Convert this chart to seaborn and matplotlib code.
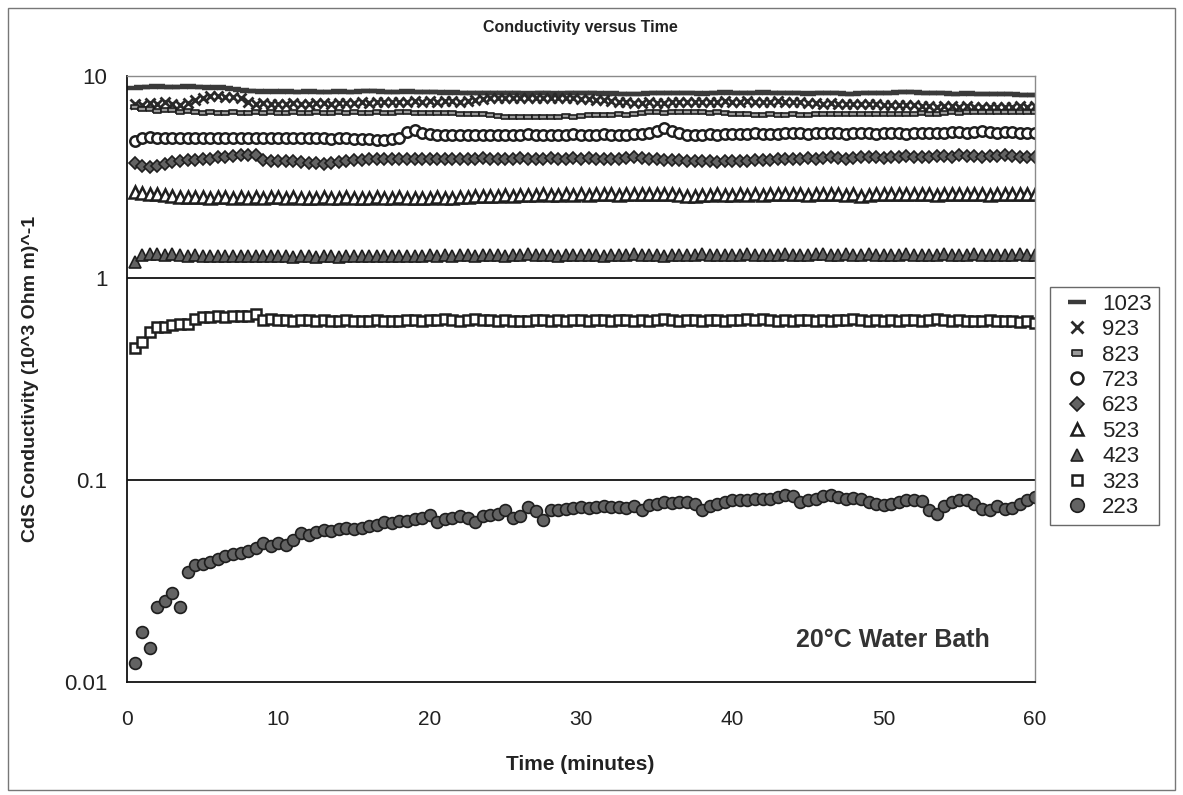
import numpy as np
import pandas as pd
import matplotlib
matplotlib.use("Agg")
import matplotlib.pyplot as plt
import seaborn as sns
from matplotlib.patches import Rectangle
from matplotlib.ticker import FixedLocator, FixedFormatter, NullLocator

# sampling times (minutes), one reading every half minute
t_min = np.arange(0.5, 60.01, 0.5)

c1023 = [8.7, 8.8, 8.85, 8.9, 8.85, 8.8, 8.85, 8.9, 8.85, 8.8, 8.75, 8.8, 8.7, 8.6, 8.5, 8.45, 8.4, 8.35, 8.4, 8.35,
         8.4, 8.35, 8.38, 8.4, 8.35, 8.3, 8.35, 8.4, 8.38, 8.35, 8.4, 8.45, 8.4, 8.35, 8.3, 8.35, 8.4, 8.35, 8.3, 8.32,
         8.3, 8.28, 8.3, 8.25, 8.22, 8.25, 8.2, 8.22, 8.25, 8.2, 8.22, 8.2, 8.18, 8.2, 8.22, 8.2, 8.18, 8.2, 8.25, 8.2,
         8.22, 8.2, 8.18, 8.2, 8.15, 8.12, 8.1, 8.15, 8.2, 8.25, 8.22, 8.2, 8.25, 8.22, 8.2, 8.18, 8.2, 8.22, 8.3, 8.25,
         8.22, 8.2, 8.25, 8.3, 8.28, 8.25, 8.22, 8.2, 8.22, 8.18, 8.2, 8.25, 8.22, 8.2, 8.18, 8.15, 8.2, 8.22, 8.2, 8.25,
         8.28, 8.3, 8.35, 8.3, 8.25, 8.2, 8.22, 8.2, 8.18, 8.15, 8.2, 8.18, 8.15, 8.12, 8.1, 8.12, 8.1, 8.08, 8.05, 8.05]
c923 = [7.3, 7.2, 7.35, 7.25, 7.4, 7.3, 7.2, 7.35, 7.6, 7.8, 7.95, 8.0, 7.85, 7.9, 7.8, 7.4, 7.3, 7.35, 7.3, 7.25,
        7.3, 7.35, 7.3, 7.28, 7.32, 7.35, 7.3, 7.35, 7.38, 7.35, 7.4, 7.38, 7.42, 7.4, 7.45, 7.42, 7.45, 7.48, 7.45, 7.5,
        7.45, 7.48, 7.5, 7.45, 7.5, 7.6, 7.7, 7.75, 7.8, 7.75, 7.8, 7.82, 7.78, 7.8, 7.75, 7.8, 7.78, 7.75, 7.8, 7.7,
        7.72, 7.65, 7.6, 7.5, 7.45, 7.4, 7.38, 7.35, 7.4, 7.38, 7.35, 7.4, 7.42, 7.4, 7.45, 7.42, 7.4, 7.45, 7.48, 7.45,
        7.45, 7.48, 7.45, 7.42, 7.45, 7.48, 7.45, 7.42, 7.4, 7.38, 7.35, 7.3, 7.32, 7.3, 7.28, 7.3, 7.25, 7.28, 7.25, 7.2,
        7.22, 7.2, 7.15, 7.18, 7.1, 7.12, 7.05, 7.1, 7.08, 7.05, 7.1, 7.05, 7.0, 7.05, 7.02, 7.0, 7.05, 7.1, 7.05, 7.1]
c823 = [7.0, 6.85, 6.9, 6.7, 6.75, 6.8, 6.6, 6.7, 6.65, 6.55, 6.6, 6.58, 6.55, 6.6, 6.55, 6.58, 6.6, 6.55, 6.6, 6.58,
        6.55, 6.6, 6.58, 6.55, 6.6, 6.55, 6.58, 6.6, 6.55, 6.6, 6.58, 6.55, 6.6, 6.58, 6.55, 6.6, 6.62, 6.58, 6.55, 6.58,
        6.55, 6.58, 6.55, 6.5, 6.52, 6.48, 6.45, 6.4, 6.35, 6.3, 6.28, 6.3, 6.25, 6.3, 6.28, 6.25, 6.3, 6.35, 6.3, 6.35,
        6.4, 6.42, 6.38, 6.4, 6.45, 6.42, 6.5, 6.55, 6.6, 6.62, 6.58, 6.65, 6.62, 6.6, 6.65, 6.62, 6.58, 6.6, 6.55, 6.5,
        6.48, 6.45, 6.42, 6.4, 6.45, 6.42, 6.4, 6.45, 6.42, 6.4, 6.45, 6.48, 6.45, 6.5, 6.48, 6.45, 6.5, 6.48, 6.5, 6.52,
        6.5, 6.48, 6.5, 6.52, 6.55, 6.5, 6.52, 6.55, 6.6, 6.58, 6.62, 6.6, 6.65, 6.62, 6.6, 6.65, 6.62, 6.6, 6.65, 6.62]
c723 = [4.75, 4.95, 5.0, 4.95, 4.92, 4.95, 4.95, 4.92, 4.95, 4.95, 4.92, 4.95, 4.95, 4.93, 4.95, 4.95, 4.92, 4.95, 4.95, 4.95,
        4.93, 4.95, 4.95, 4.93, 4.95, 4.92, 4.9, 4.92, 4.95, 4.9, 4.85, 4.88, 4.82, 4.8, 4.85, 4.95, 5.3, 5.4, 5.25, 5.15,
        5.1, 5.12, 5.1, 5.1, 5.08, 5.1, 5.12, 5.1, 5.1, 5.08, 5.1, 5.12, 5.15, 5.1, 5.1, 5.12, 5.1, 5.1, 5.15, 5.12,
        5.1, 5.12, 5.15, 5.12, 5.1, 5.12, 5.15, 5.18, 5.2, 5.35, 5.5, 5.35, 5.2, 5.12, 5.1, 5.12, 5.15, 5.12, 5.15, 5.18,
        5.15, 5.18, 5.2, 5.18, 5.15, 5.18, 5.22, 5.25, 5.2, 5.18, 5.2, 5.22, 5.25, 5.2, 5.18, 5.2, 5.22, 5.2, 5.18, 5.2,
        5.22, 5.2, 5.18, 5.2, 5.25, 5.22, 5.2, 5.25, 5.3, 5.28, 5.25, 5.3, 5.32, 5.28, 5.25, 5.3, 5.28, 5.25, 5.22, 5.2]
c623 = [3.7, 3.6, 3.55, 3.6, 3.65, 3.75, 3.8, 3.85, 3.85, 3.9, 3.9, 3.95, 3.95, 4.0, 4.05, 4.05, 4.08, 3.85, 3.8, 3.8,
        3.8, 3.78, 3.76, 3.72, 3.7, 3.68, 3.72, 3.76, 3.8, 3.84, 3.86, 3.88, 3.88, 3.9, 3.9, 3.88, 3.9, 3.9, 3.88, 3.9,
        3.9, 3.88, 3.9, 3.9, 3.88, 3.9, 3.92, 3.9, 3.88, 3.9, 3.9, 3.92, 3.9, 3.88, 3.9, 3.92, 3.9, 3.9, 3.92, 3.9,
        3.92, 3.9, 3.9, 3.88, 3.9, 3.92, 3.95, 3.92, 3.9, 3.88, 3.86, 3.85, 3.82, 3.8, 3.78, 3.8, 3.78, 3.76, 3.78, 3.8,
        3.78, 3.8, 3.82, 3.85, 3.86, 3.88, 3.9, 3.88, 3.9, 3.92, 3.9, 3.92, 3.95, 3.92, 3.9, 3.92, 3.95, 3.98, 3.95, 3.92,
        3.95, 3.98, 4.0, 3.98, 3.95, 3.98, 4.02, 4.0, 3.98, 4.05, 4.02, 4.0, 3.98, 4.0, 4.02, 4.05, 4.0, 3.98, 3.95, 3.95]
c523 = [2.67, 2.65, 2.62, 2.6, 2.57, 2.55, 2.53, 2.52, 2.52, 2.51, 2.5, 2.52, 2.51, 2.5, 2.52, 2.5, 2.51, 2.5, 2.52, 2.51,
        2.5, 2.51, 2.5, 2.49, 2.5, 2.51, 2.5, 2.5, 2.51, 2.5, 2.49, 2.5, 2.51, 2.5, 2.5, 2.51, 2.5, 2.49, 2.5, 2.5,
        2.51, 2.5, 2.5, 2.52, 2.53, 2.55, 2.54, 2.56, 2.55, 2.57, 2.56, 2.58, 2.57, 2.58, 2.6, 2.58, 2.59, 2.6, 2.58, 2.6,
        2.59, 2.6, 2.61, 2.6, 2.58, 2.6, 2.62, 2.6, 2.61, 2.6, 2.62, 2.6, 2.58, 2.56, 2.55, 2.57, 2.58, 2.6, 2.59, 2.58,
        2.6, 2.58, 2.6, 2.59, 2.6, 2.62, 2.6, 2.61, 2.6, 2.58, 2.6, 2.6, 2.62, 2.6, 2.59, 2.6, 2.56, 2.58, 2.6, 2.61,
        2.6, 2.62, 2.6, 2.6, 2.61, 2.6, 2.59, 2.6, 2.62, 2.6, 2.6, 2.61, 2.6, 2.59, 2.6, 2.6, 2.61, 2.6, 2.6, 2.6]
c423 = [1.2, 1.3, 1.32, 1.31, 1.3, 1.31, 1.3, 1.29, 1.3, 1.29, 1.28, 1.29, 1.28, 1.28, 1.29, 1.28, 1.28, 1.29, 1.28, 1.28,
        1.28, 1.27, 1.28, 1.28, 1.27, 1.28, 1.28, 1.27, 1.28, 1.28, 1.29, 1.28, 1.28, 1.29, 1.28, 1.29, 1.29, 1.28, 1.29, 1.3,
        1.29, 1.3, 1.29, 1.3, 1.3, 1.29, 1.3, 1.3, 1.3, 1.29, 1.3, 1.3, 1.31, 1.3, 1.3, 1.3, 1.29, 1.3, 1.3, 1.3,
        1.3, 1.3, 1.29, 1.3, 1.3, 1.3, 1.31, 1.3, 1.3, 1.3, 1.29, 1.3, 1.3, 1.3, 1.3, 1.31, 1.3, 1.3, 1.3, 1.3,
        1.3, 1.31, 1.3, 1.3, 1.3, 1.3, 1.31, 1.3, 1.3, 1.3, 1.31, 1.31, 1.3, 1.3, 1.31, 1.3, 1.3, 1.31, 1.3, 1.3,
        1.3, 1.3, 1.31, 1.3, 1.3, 1.3, 1.3, 1.31, 1.3, 1.3, 1.3, 1.31, 1.3, 1.3, 1.3, 1.3, 1.3, 1.31, 1.3, 1.3]
c323 = [0.45, 0.48, 0.54, 0.57, 0.57, 0.585, 0.59, 0.59, 0.626, 0.64, 0.64, 0.645, 0.64, 0.65, 0.645, 0.65, 0.66, 0.62, 0.625, 0.62,
        0.62, 0.615, 0.62, 0.62, 0.615, 0.62, 0.615, 0.615, 0.62, 0.615, 0.61, 0.615, 0.62, 0.615, 0.61, 0.615, 0.62, 0.62, 0.615, 0.62,
        0.62, 0.625, 0.62, 0.615, 0.62, 0.625, 0.62, 0.62, 0.615, 0.62, 0.615, 0.61, 0.615, 0.62, 0.62, 0.615, 0.62, 0.615, 0.62, 0.62,
        0.615, 0.62, 0.62, 0.615, 0.62, 0.62, 0.615, 0.62, 0.615, 0.62, 0.625, 0.62, 0.615, 0.62, 0.62, 0.615, 0.62, 0.62, 0.615, 0.62,
        0.62, 0.625, 0.62, 0.625, 0.62, 0.615, 0.62, 0.615, 0.62, 0.62, 0.615, 0.62, 0.615, 0.62, 0.62, 0.625, 0.62, 0.615, 0.62, 0.615,
        0.62, 0.615, 0.62, 0.62, 0.615, 0.62, 0.625, 0.62, 0.615, 0.62, 0.615, 0.61, 0.615, 0.62, 0.615, 0.61, 0.61, 0.605, 0.61, 0.60]
c223 = [0.0124, 0.0177, 0.0147, 0.0235, 0.0252, 0.0276, 0.0235, 0.0351, 0.0378, 0.0386, 0.0395, 0.0405, 0.042, 0.043, 0.0435, 0.0445, 0.046, 0.0488, 0.047, 0.049,
        0.0475, 0.0505, 0.0547, 0.0535, 0.055, 0.0567, 0.056, 0.057, 0.058, 0.0575, 0.058, 0.059, 0.06, 0.062, 0.061, 0.0625, 0.063, 0.064, 0.0648, 0.0668,
        0.062, 0.064, 0.0645, 0.066, 0.065, 0.062, 0.066, 0.067, 0.068, 0.071, 0.065, 0.066, 0.0735, 0.07, 0.0636, 0.071, 0.071, 0.072, 0.073, 0.0735,
        0.073, 0.0735, 0.074, 0.0735, 0.0735, 0.073, 0.074, 0.071, 0.075, 0.0765, 0.0778, 0.077, 0.0775, 0.078, 0.0765, 0.071, 0.074, 0.0765, 0.078, 0.08,
        0.0795, 0.08, 0.081, 0.0805, 0.081, 0.0825, 0.0843, 0.083, 0.078, 0.08, 0.081, 0.0835, 0.084, 0.0825, 0.081, 0.0815, 0.081, 0.078, 0.076, 0.075,
        0.0765, 0.078, 0.08, 0.08, 0.079, 0.071, 0.068, 0.0745, 0.078, 0.08, 0.0795, 0.076, 0.072, 0.071, 0.0745, 0.0715, 0.073, 0.076, 0.08, 0.082]

etiquetas = ["1023", "923", "823", "723", "623", "523", "423", "323", "223"]
series = [c1023, c923, c823, c723, c623, c523, c423, c323, c223]

y_ticks = [0.01, 0.1, 1, 10]
y_tick_labels = ["0.01", "0.1", "1", "10"]
x_ticks = [0, 10, 20, 30, 40, 50, 60]

gris = "#636363"
borde = "#1e1e1e"
rect = [(-1, -0.55), (1, -0.55), (1, 0.55), (-1, 0.55), (-1, -0.55)]
estilos = {
    "1023": dict(marker="_", markersize=11, markeredgewidth=3.2, markerfacecolor=gris, markeredgecolor="#3a3a3a"),
    "923": dict(marker="x", markersize=7.5, markeredgewidth=2.0, markerfacecolor=borde, markeredgecolor="#2a2a2a"),
    "823": dict(marker=rect, markersize=6, markeredgewidth=1.2, markerfacecolor="#9a9a9a", markeredgecolor=borde),
    "723": dict(marker="o", markersize=7.5, markeredgewidth=1.8, markerfacecolor="white", markeredgecolor=borde),
    "623": dict(marker="D", markersize=6.5, markeredgewidth=1.2, markerfacecolor=gris, markeredgecolor=borde),
    "523": dict(marker="^", markersize=8, markeredgewidth=1.8, markerfacecolor="white", markeredgecolor=borde),
    "423": dict(marker="^", markersize=8, markeredgewidth=1.2, markerfacecolor=gris, markeredgecolor=borde),
    "323": dict(marker="s", markersize=6.5, markeredgewidth=1.8, markerfacecolor="white", markeredgecolor=borde),
    "223": dict(marker="o", markersize=8.5, markeredgewidth=1.2, markerfacecolor=gris, markeredgecolor=borde),
}

sns.set_style("white")
plt.rcParams["font.family"] = ["Liberation Sans", "DejaVu Sans"]
texto = "#222222"

fig = plt.figure(figsize=(11.83, 7.95), dpi=100)
ax = fig.add_axes([127 / 1183, 0.1421, 908 / 1183, 0.7623])

for nombre, valores in zip(etiquetas, series):
    df = pd.DataFrame({"t": t_min, "c": valores})
    sns.lineplot(data=df, x="t", y="c", ax=ax, linestyle="", color=borde, label=nombre, **estilos[nombre])

ax.set_yscale("log")
ax.set_ylim(0.01, 10)
ax.set_xlim(0, 60)
ax.yaxis.set_major_locator(FixedLocator(y_ticks))
ax.yaxis.set_major_formatter(FixedFormatter(y_tick_labels))
ax.yaxis.set_minor_locator(NullLocator())
ax.set_xticks(x_ticks)
ax.set_xlabel("")
ax.set_ylabel("")

for v in y_ticks[1:3]:
    ax.axhline(v, color="#111111", lw=1.3, zorder=0)

for lado in ["left", "bottom"]:
    ax.spines[lado].set_color("#111111")
    ax.spines[lado].set_linewidth(1.3)
for lado in ["top", "right"]:
    ax.spines[lado].set_color("#8a8a8a")
    ax.spines[lado].set_linewidth(1.0)
    ax.spines[lado].set_linestyle((0, (3, 1)))

ax.tick_params(axis="both", which="major", direction="out", length=6, width=1.2, color="#111111",
               labelcolor=texto)
ax.tick_params(axis="x", pad=14, labelsize=15)
ax.tick_params(axis="y", pad=8, labelsize=16)

fig.text(0.4905, 0.965, "Conductivity versus Time", ha="center", va="center",
         fontsize=11.5, fontweight="bold", color=texto)
fig.text(0.4905, 0.038, "Time (minutes)", ha="center", va="center",
         fontsize=15, fontweight="bold", color=texto)
fig.text(0.026, 0.523, "CdS Conductivity (10^3 Ohm m)^-1", ha="center", va="center", rotation=90,
         fontsize=14, fontweight="bold", color=texto)
ax.text(0.844, 0.069, "20°C Water Bath", transform=ax.transAxes, ha="center", va="center",
        fontsize=18, fontweight="bold", color="#333333")

ley = ax.legend(loc="upper left", bbox_to_anchor=(1050 / 1183, 1 - 287 / 795), bbox_transform=fig.transFigure,
                frameon=True, fancybox=False, fontsize=16, handlelength=1.8, handletextpad=0.25,
                labelspacing=0.2, borderpad=0.3, borderaxespad=0, labelcolor=texto, markerscale=1.15)
ley.get_frame().set_edgecolor("#444444")
ley.get_frame().set_linewidth(1.0)

fig.patches.append(Rectangle((0.007, 0.006), 0.986, 0.984, transform=fig.transFigure, fill=False,
                             edgecolor="#777777", lw=1.0))

fig.savefig("out.png", dpi=100)
